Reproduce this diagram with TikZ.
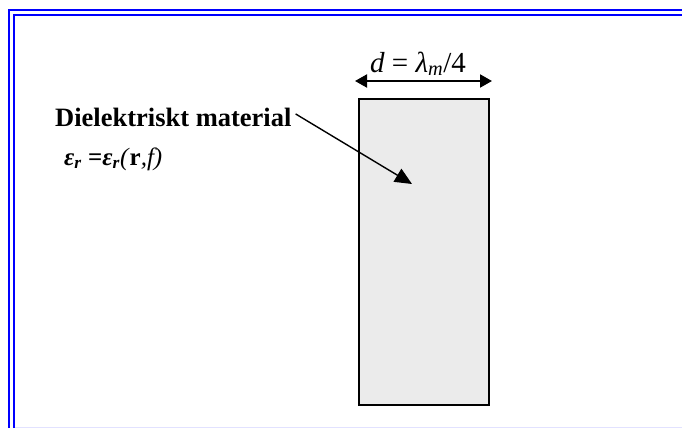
\documentclass[tikz,border=0pt]{standalone}
\usepackage{fontspec}
\setmainfont{Liberation Serif}
\usetikzlibrary{arrows.meta}
\definecolor{slabgray}{HTML}{EBEBEB}
\definecolor{framebot}{HTML}{E2E2FF}
\tikzset{
  framelinestyle/.style={blue, line width=2pt},
  dimarrow/.style={line width=2pt, {Triangle[length=12pt,width=13pt]}-{Triangle[length=12pt,width=13pt]}},
  ptrarrow/.style={line width=1.4pt, -{Triangle[length=17pt,width=15pt]}},
  slabstyle/.style={draw, line width=2pt, fill=slabgray, inner sep=0pt, anchor=north west}
}
\begin{document}
\begin{tikzpicture}[x=1pt,y=-1pt]
\useasboundingbox (0,0) rectangle (682,428);
% frame
\coordinate (fo1) at (9,428); \coordinate (fo2) at (9,10); \coordinate (fo3) at (682,10);
\coordinate (fi1) at (14,428); \coordinate (fi2) at (14,15); \coordinate (fi3) at (682,15);
\coordinate (fb1) at (15,427.5); \coordinate (fb2) at (682,427.5);
\draw[framelinestyle] (fo1) -- (fo2) -- (fo3);
\draw[framelinestyle] (fi1) -- (fi2) -- (fi3);
\draw[framebot, line width=1pt] (fb1) -- (fb2);
% slab
\node[slabstyle, minimum width=130pt, minimum height=306pt] (slab) at (358,98) {};
% dimension
\coordinate (dl) at (355,81);
\coordinate (dr) at (492,81);
\draw[dimarrow] (dl) -- (dr);
\node[anchor=base, inner sep=0pt, font=\fontsize{29}{33}\selectfont] (dlabel) at (418,72)
  {\textit{d} = \textit{λ}\textsubscript{\textit{m}}/4};
% labels
\node[anchor=base west, inner sep=0pt, font=\bfseries\fontsize{26.5}{30}\selectfont] (mat) at (55,126) {Dielektriskt material};
\node[anchor=base west, inner sep=0pt, font=\fontsize{25}{29}\selectfont] (eps) at (64,165)
  {\textbf{\textit{ε}\textsubscript{\textit{r}}} \textbf{=}\textbf{\textit{ε}\textsubscript{\textit{r}}}\textit{(}\textbf{r}\textit{,f)}};
\coordinate (tip) at (412,184);
\draw[ptrarrow] (mat.east) ++(4pt,3pt) coordinate (start) -- (tip);
\end{tikzpicture}
\end{document}
